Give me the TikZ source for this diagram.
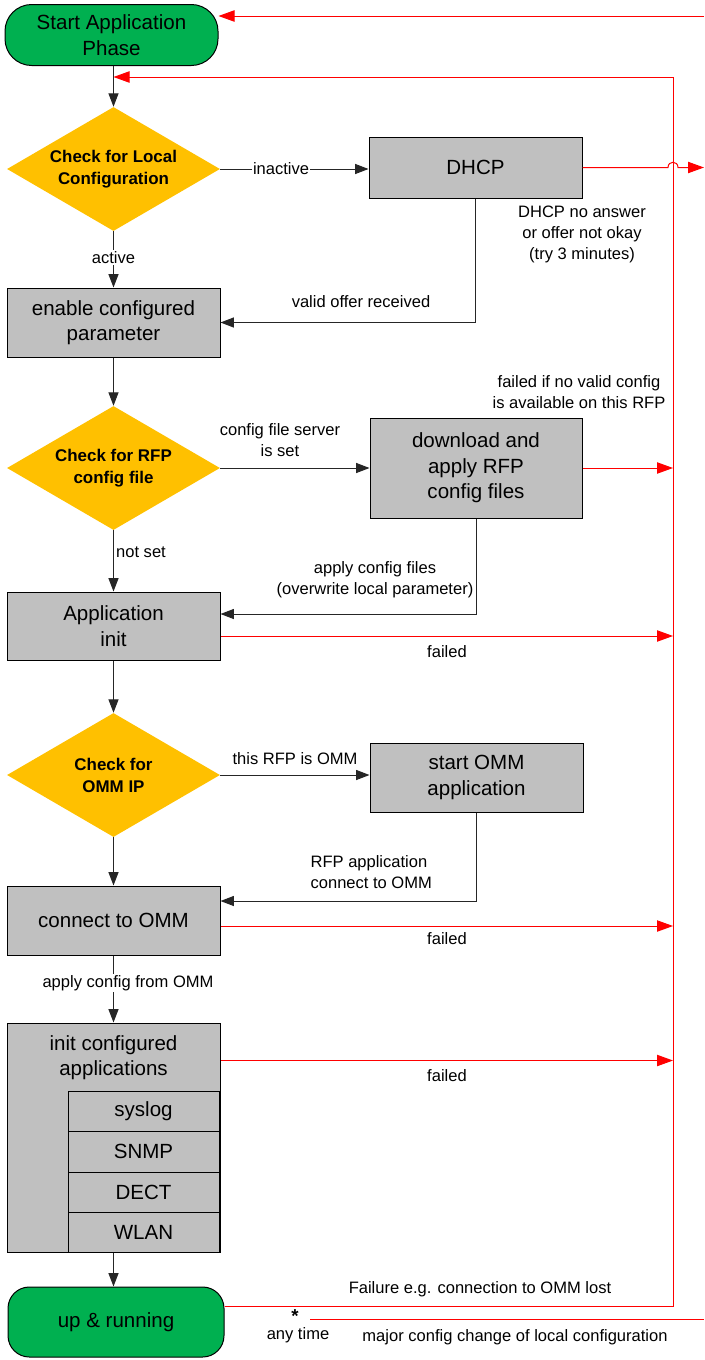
\documentclass[tikz,border=0pt]{standalone}
\usepackage{fontspec}
\setmainfont{Liberation Sans}
\usetikzlibrary{shapes.geometric,arrows.meta,calc}
\definecolor{startgreen}{HTML}{00B050}
\definecolor{decgold}{HTML}{FFC000}
\definecolor{procgray}{HTML}{C0C0C0}
\definecolor{failred}{HTML}{FF0000}
\begin{document}
\begin{tikzpicture}[x=0.75pt,y=-0.75pt,
  sz/.style 2 args={minimum width=#1*0.75pt,minimum height=#2*0.75pt},
  nodetext/.style={font=\fontsize{15.4pt}{19pt}\selectfont, align=center},
  terminal/.style={draw=black, line width=0.75pt, fill=startgreen, rounded corners=20pt, inner sep=0pt, nodetext},
  procbox/.style={draw=black, line width=0.75pt, fill=procgray, inner sep=0pt, nodetext},
  decision/.style={diamond, draw=none, fill=decgold, inner sep=0pt},
  dectext/.style={font=\fontsize{12.7pt}{16.5pt}\selectfont\bfseries, align=center},
  lbl/.style={font=\fontsize{12.4pt}{15.75pt}\selectfont, align=center, inner sep=1pt},
  flow/.style={draw=black!85, line width=0.75pt, -{Triangle[length=10pt,width=7.5pt]}},
  fail/.style={draw=failred, line width=0.75pt},
  failarr/.style={fail, -{Triangle[length=12pt,width=8.5pt]}},
]
\useasboundingbox (0,0) rectangle (704,1360);

% ---- nodes ----
\node[terminal, sz={213}{61}] (start) at (111.5,35) {Start Application\\Phase};
\node[decision, sz={213}{124}] (d1) at (113.5,169) {};
\node[dectext] (d1t) at (d1.center) {Check for Local\\Configuration};
\node[procbox, sz={213}{61}] (dhcp) at (475.5,167.5) {DHCP};
\node[procbox, sz={213}{69}] (enable) at (113.5,322.5) {enable configured\\parameter};
\node[decision, sz={213}{124}] (d2) at (113.5,468) {};
\node[dectext] (d2t) at (d2.center) {Check for RFP\\config file};
\node[procbox, sz={212}{100}] (dl) at (476,468) {download and\\apply RFP\\config files};
\node[procbox, sz={213}{68}] (app) at (113.5,626) {Application\\init};
\node[decision, sz={213}{124}] (d3) at (113.5,775) {};
\node[dectext] (d3t) at (d3.center) {Check for\\OMM IP};
\node[procbox, sz={213}{69}] (omm) at (476.5,777.5) {start OMM\\application};
\node[procbox, sz={213}{69}] (conn) at (113.5,920.5) {connect to OMM};
\node[procbox, sz={213}{229}] (init) at (113.5,1137.5) {};
\node[nodetext] (initt) at (113.5,1057.5) {init configured\\applications};
\node[procbox, sz={151}{40}] (syslog) at (143.5,1111) {syslog};
\node[procbox, sz={151}{41}] (snmp) at (143.5,1151.5) {SNMP};
\node[procbox, sz={151}{40}] (dect) at (143.5,1192) {DECT};
\node[procbox, sz={151}{40}] (wlan) at (143.5,1232) {WLAN};
\node[terminal, rounded corners=16pt, sz={216}{70}] (up) at (116,1322) {up \& running};

% ---- black flow ----
\draw[flow] (d1.north |- start.south) -- (d1.north);
\draw[flow] (d1.east) -- node[lbl, fill=white, pos=0.41] (linactive) {inactive} (dhcp.west |- d1.east);
\draw[flow] (d1.south) -- node[lbl, fill=white, pos=0.47] (lactive) {active} (enable.north);
\draw[flow] (dhcp.south) |- (enable.east);
\draw[flow] (enable.south) -- (d2.north);
\draw[flow] (d2.east) -- (dl.west |- d2.east);
\draw[flow] (d2.south) -- (app.north);
\coordinate (appin) at ($(app.east)+(0,-12)$);
\draw[flow] (dl.south) |- (appin);
\draw[flow] (app.south) -- (d3.north);
\draw[flow] (d3.east) -- (omm.west |- d3.east);
\draw[flow] (d3.south) -- (conn.north);
\coordinate (connin) at ($(conn.east)+(0,-19.5)$);
\draw[flow] (omm.south) |- (connin);
\draw[flow] (conn.south) -- (init.north);
\node[lbl, fill=white] (lapply) at (128,983) {apply config from OMM};
\draw[flow] (init.south) -- (init.south |- up.north);

% ---- red failure paths ----
\coordinate (rvtop) at (673,77);
\coordinate (topin) at (704,16);
\coordinate (redge) at (704,0);
\draw[failarr] (topin) -- (topin -| start.east);
\coordinate (upf) at ($(up.east)+(0,-16)$);
\draw[failarr] (upf) -| (rvtop) -- (rvtop -| d1.north);
\draw[failarr] (dhcp.east) -- ($(dhcp.east -| rvtop)+(-5,0)$)
   .. controls ($(dhcp.east -| rvtop)+(-5,-7)$) and ($(dhcp.east -| rvtop)+(5,-7)$) .. ($(dhcp.east -| rvtop)+(5,0)$)
   -- (dhcp.east -| redge);
\draw[failarr] (dl.east) -- (dl.east -| rvtop);
\coordinate (appf) at ($(app.east)+(0,10)$);
\draw[failarr] (appf) -- (appf -| rvtop);
\coordinate (connf) at ($(conn.east)+(0,5.5)$);
\draw[failarr] (connf) -- (connf -| rvtop);
\coordinate (initf) at ($(init.north east)+(0,38)$);
\draw[failarr] (initf) -- (initf -| rvtop);
\coordinate (mcstart) at (310,1319);
\coordinate (mcend) at (704,1319);
\draw[fail] (mcstart) -- (mcend);

% ---- labels ----
\node[lbl] (lvalid) at (361,302) {valid offer received};
\node[lbl] (ldhcpfail) at (582,234) {DHCP no answer\\or offer not okay\\(try 3 minutes)};
\node[lbl] (lnocfg) at (579,392.5) {failed if no valid config\\is available on this RFP};
\node[lbl] (lserver) at (280,440.5) {config file server\\is set};
\node[lbl] (lnotset) at (141,552) {not set};
\node[lbl] (lapplycfg) at (375,580) {apply config files\\(overwrite local parameter)};
\node[lbl] (lfail1) at (447,652) {failed};
\node[lbl] (lomm) at (295,759) {this RFP is OMM};
\node[lbl, align=left, anchor=west] (lrfpapp) at (309,872.5) {RFP application\\connect to OMM};
\node[lbl] (lfail2) at (447,939) {failed};
\node[lbl] (lfail3) at (447,1076) {failed};
\node[lbl] (lfailure) at (480,1289) {Failure e.g. connection to OMM lost};
\node[font=\fontsize{14pt}{14pt}\selectfont\bfseries, inner sep=0pt] (lstar) at (295,1316) {*};
\node[lbl] (lanytime) at (298,1335) {any time};
\node[lbl] (lmajor) at (515,1337) {major config change of local configuration};
\end{tikzpicture}
\end{document}
